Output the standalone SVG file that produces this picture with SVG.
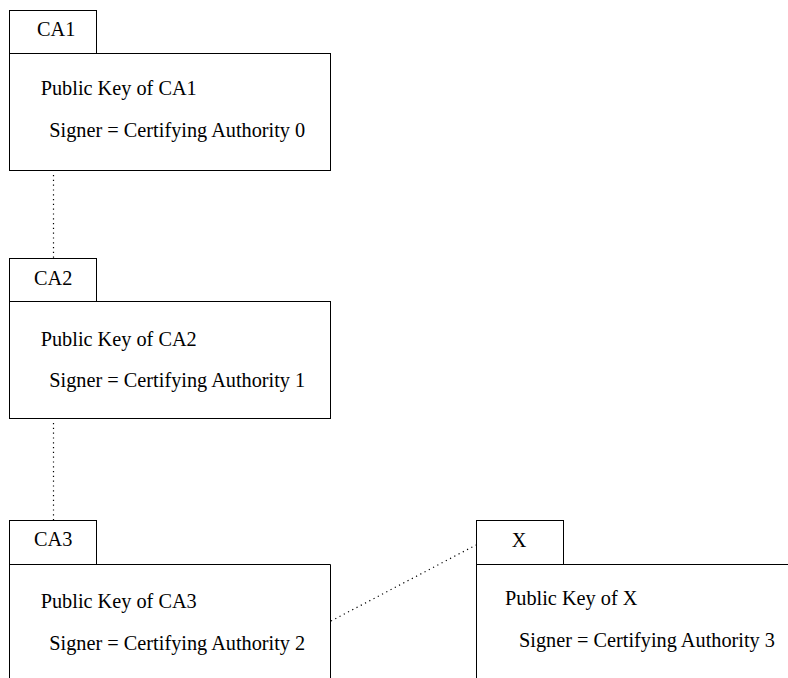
<svg xmlns="http://www.w3.org/2000/svg" width="788" height="678" viewBox="0 0 788 678">
  <style>
    .box { fill: none; stroke: #000; stroke-width: 1; }
    .lbl { font-family: "Liberation Serif", "Times New Roman", serif; font-size: 20.3px; fill: #000; }
    .link { fill: none; stroke: #000; stroke-width: 1.2; stroke-dasharray: 1.2 3.6; }
  </style>
  <rect width="788" height="678" fill="#fff"/>

  <!-- certificate chain links -->
  <g id="connectors">
    <line class="link" x1="53.5" y1="175" x2="53.5" y2="258"/>
    <line class="link" x1="53.5" y1="423" x2="53.5" y2="520"/>
    <line class="link" x1="331" y1="621" x2="476" y2="545"/>
  </g>

  <g id="ca1">
    <rect class="box" x="9.5" y="10.5" width="87" height="43"/>
    <rect class="box" x="9.5" y="53.5" width="321" height="117"/>
    <text class="lbl" x="37" y="36">CA1</text>
    <text class="lbl" x="40.7" y="95">Public Key of CA1</text>
    <text class="lbl" x="49.3" y="137">Signer = Certifying Authority 0</text>
  </g>

  <g id="ca2">
    <rect class="box" x="9.5" y="258.5" width="87" height="43"/>
    <rect class="box" x="9.5" y="301.5" width="321" height="117"/>
    <text class="lbl" x="34" y="285">CA2</text>
    <text class="lbl" x="40.7" y="346">Public Key of CA2</text>
    <text class="lbl" x="49.3" y="387">Signer = Certifying Authority 1</text>
  </g>

  <g id="ca3">
    <rect class="box" x="9.5" y="520.5" width="87" height="44"/>
    <path class="box" d="M9.5 690 V564.5 H330.5 V690"/>
    <text class="lbl" x="34" y="546">CA3</text>
    <text class="lbl" x="40.7" y="608">Public Key of CA3</text>
    <text class="lbl" x="49.3" y="650">Signer = Certifying Authority 2</text>
  </g>

  <g id="x">
    <rect class="box" x="476.5" y="520.5" width="87" height="44"/>
    <path class="box" d="M476.5 690 V564.5 H800"/>
    <text class="lbl" x="511.7" y="547">X</text>
    <text class="lbl" x="505" y="605">Public Key of X</text>
    <text class="lbl" x="519" y="647">Signer = Certifying Authority 3</text>
  </g>
</svg>
